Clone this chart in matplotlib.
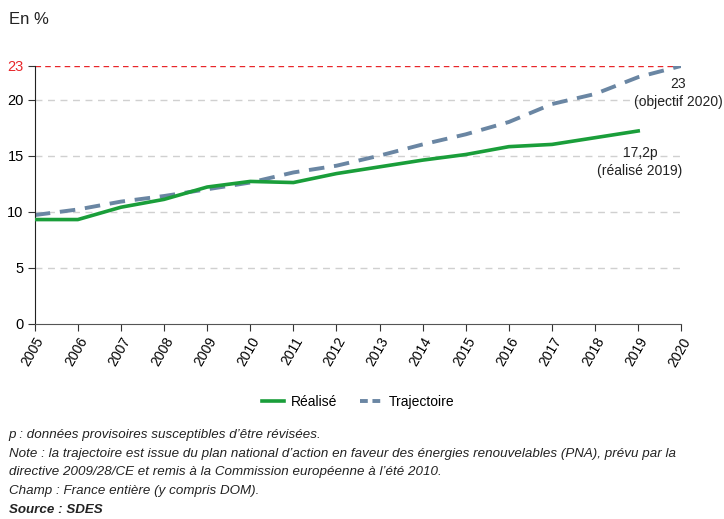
import matplotlib
matplotlib.use('Agg')
import matplotlib.pyplot as plt
from matplotlib.lines import Line2D

annees = list(range(2005, 2021))
realise = [9.3, 9.3, 10.4, 11.1, 12.2, 12.7, 12.6, 13.4, 14.0, 14.6, 15.1, 15.8, 16.0, 16.6, 17.2]
trajectoire = [9.7, 10.2, 10.9, 11.4, 12.0, 12.6, 13.5, 14.1, 15.0, 16.0, 16.9, 18.0, 19.6, 20.5, 22.0, 23.0]
objectif = 23
y_ticks = [0, 5, 10, 15, 20]

plt.rcParams['font.family'] = ['Liberation Sans', 'DejaVu Sans']

fig = plt.figure(figsize=(7.24, 5.19), dpi=100)
ax = fig.add_axes([0.048, 0.376, 0.893, 0.497])

vert = '#1a9e3a'
bleu = '#6a86a3'
texte = '#222222'

for y in y_ticks[1:]:
    ax.axhline(y, color='#d0d0d0', lw=1, ls=(0, (5, 4)), zorder=0)
ax.axhline(objectif, color='#e8262a', lw=1, ls=(0, (4, 3)), zorder=1)

ax.plot(annees[:len(realise)], realise, color=vert, lw=2.6, zorder=3)
ax.plot(annees, trajectoire, color=bleu, lw=2.8, ls=(0, (4, 2.5)), zorder=2)

ax.set_xlim(2005, 2020)
ax.set_ylim(0, 23)
ax.set_yticks(y_ticks + [objectif])
ax.set_yticklabels([str(v) for v in y_ticks] + [str(objectif)], fontsize=10.5)
ax.get_yticklabels()[-1].set_color('#e8262a')
ax.set_xticks(annees)
ax.set_xticklabels([str(a) for a in annees], rotation=60, ha='right',
                   rotation_mode='anchor', fontsize=10)
ax.tick_params(axis='both', direction='out', length=5, color='#333333', pad=3)
for s in ['top', 'right']:
    ax.spines[s].set_visible(False)
ax.spines['left'].set_color(texte)
ax.spines['bottom'].set_color('#555555')

# étiquettes de fin de série
fig.text(678 / 724, 1 - 93 / 519, '23\n(objectif 2020)', ha='center', va='center',
         multialignment='center', fontsize=10, color=texte, linespacing=1.35)
fig.text(640 / 724, 1 - 162 / 519, '17,2p\n(réalisé 2019)', ha='center', va='center',
         multialignment='center', fontsize=10, color=texte, linespacing=1.35)

fig.text(0.012, 0.962, 'En %', fontsize=12, color=texte, va='center')

handles = [Line2D([], [], color=vert, lw=2.6),
           Line2D([], [], color=bleu, lw=2.8, ls=(0, (2, 1.2)))]
fig.legend(handles, ['Réalisé', 'Trajectoire'], loc='center', ncol=2,
           bbox_to_anchor=(0.495, 0.225), frameon=False, fontsize=10,
           handlelength=1.6, columnspacing=1.6, handletextpad=0.5)

notes = [
    "p : données provisoires susceptibles d’être révisées.",
    "Note : la trajectoire est issue du plan national d’action en faveur des énergies renouvelables (PNA), prévu par la",
    "directive 2009/28/CE et remis à la Commission européenne à l’été 2010.",
    "Champ : France entière (y compris DOM).",
]
y0 = 0.162
for i, t in enumerate(notes):
    fig.text(0.012, y0 - i * 0.036, t, fontsize=9.6, style='italic',
             color=texte, va='center')
fig.text(0.012, y0 - 4 * 0.036, 'Source : SDES', fontsize=9.6, style='italic',
         weight='bold', color=texte, va='center')

fig.savefig('out.png', dpi=100)
